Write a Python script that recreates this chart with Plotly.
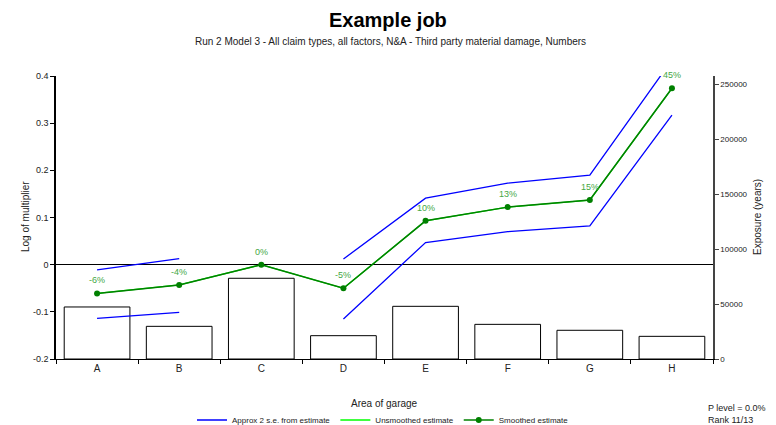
import plotly.graph_objects as go

categories = ["A", "B", "C", "D", "E", "F", "G", "H"]
exposure = [47300, 29700, 73400, 21200, 47900, 31500, 26100, 20600]
smoothed = [-0.061, -0.043, 0.0, -0.050, 0.093, 0.122, 0.137, 0.374]
unsmoothed = [-0.061, -0.043, 0.0, -0.050, 0.093, 0.122, 0.137, 0.374]
upper_se = [-0.011, 0.013, None, 0.012, 0.141, 0.173, 0.190, 0.434]
lower_se = [-0.114, -0.101, None, -0.115, 0.047, 0.070, 0.082, 0.317]
pct_labels = ["-6%", "-4%", "0%", "-5%", "10%", "13%", "15%", "45%"]

FONT = "Arial, Liberation Sans, sans-serif"

# The page body has an 8px margin; size the figure so the window matches.
OFF = 8
W, H = 776 - OFF, 425 - OFF
ML, MR, MT, MB = 56 - OFF, 63, 76 - OFF, 66

fig = go.Figure()

fig.add_trace(go.Bar(
    x=categories, y=exposure, yaxis="y", width=0.8,
    marker=dict(color="white", line=dict(color="black", width=1)),
    showlegend=False, hoverinfo="skip",
))
fig.add_trace(go.Scatter(
    x=categories, y=upper_se, yaxis="y2", mode="lines",
    line=dict(color="#0000ff", width=1.3), name="Approx 2 s.e. from estimate",
    connectgaps=False, legendgroup="se",
))
fig.add_trace(go.Scatter(
    x=categories, y=lower_se, yaxis="y2", mode="lines",
    line=dict(color="#0000ff", width=1.3), name="Approx 2 s.e. from estimate",
    connectgaps=False, showlegend=False, legendgroup="se",
))
fig.add_trace(go.Scatter(
    x=categories, y=unsmoothed, yaxis="y2", mode="lines",
    line=dict(color="#00ff00", width=1.3), name="Unsmoothed estimate",
))
fig.add_trace(go.Scatter(
    x=categories, y=smoothed, yaxis="y2", mode="lines+markers",
    line=dict(color="#008000", width=1.5), marker=dict(color="#008000", size=6),
    name="Smoothed estimate", cliponaxis=False,
))

plot_h = H - MT - MB
plot_w = W - ML - MR
def py(win_y):
    return (H - MB - (win_y - OFF)) / plot_h
def px(win_x):
    return ((win_x - OFF) - ML) / plot_w

annotations = [
    dict(text=lab, x=c, y=v, xref="x", yref="y2", yshift=13, showarrow=False,
         font=dict(color="#44a844", size=9))
    for c, v, lab in zip(categories, smoothed, pct_labels)
]
annotations += [
    dict(text="<b>Example job</b>", x=px(388), y=py(20), xref="paper", yref="paper",
         xanchor="center", yanchor="middle", showarrow=False,
         font=dict(size=20, color="black")),
    dict(text="Run 2 Model 3 - All claim types, all factors, N&A - Third party material damage, Numbers",
         x=px(390), y=py(41), xref="paper", yref="paper", xanchor="center", yanchor="middle",
         showarrow=False, font=dict(size=10, color="#222")),
    dict(text="P level = 0.0%<br>Rank 11/13", x=px(706), y=py(414), xref="paper", yref="paper",
         xanchor="left", yanchor="middle", showarrow=False, align="left",
         font=dict(size=9, color="#222")),
    dict(text="Area of garage", x=px(384), y=py(403), xref="paper", yref="paper",
         xanchor="center", yanchor="middle", showarrow=False, font=dict(size=10, color="#222")),
    dict(text="Log of multiplier", x=px(25), y=py(217), xref="paper", yref="paper",
         xanchor="center", yanchor="middle", showarrow=False, textangle=-90,
         font=dict(size=10, color="#222")),
    dict(text="Exposure (years)", x=px(757), y=py(217), xref="paper", yref="paper",
         xanchor="center", yanchor="middle", showarrow=False, textangle=-90,
         font=dict(size=10, color="#222")),
]

fig.update_layout(
    width=W, height=H,
    margin=dict(l=ML, r=MR, t=MT, b=MB, autoexpand=False),
    paper_bgcolor="white", plot_bgcolor="white",
    font=dict(family=FONT, size=9, color="#222"),
    bargap=0.2,
    xaxis=dict(
        type="category", showline=True, linecolor="black", linewidth=1,
        ticks="outside", ticklen=4, tickcolor="black", tickson="boundaries",
        showgrid=False, tickfont=dict(size=10, color="#222"), automargin=False,
    ),
    yaxis=dict(
        side="right", range=[0, 257300], tickvals=[0, 50000, 100000, 150000, 200000, 250000],
        tickformat="d", showline=True, linecolor="#444", linewidth=1.5,
        ticks="outside", ticklen=4, tickcolor="#444", showgrid=False, zeroline=False,
        tickfont=dict(size=8, color="#222"), automargin=False,
    ),
    yaxis2=dict(
        overlaying="y", side="left", range=[-0.2, 0.4],
        tickvals=[-0.2, -0.1, 0, 0.1, 0.2, 0.3, 0.4],
        ticktext=["-0.2", "-0.1", "0", "0.1", "0.2", "0.3", "0.4"],
        showline=True, linecolor="black", linewidth=1.5,
        ticks="outside", ticklen=4, tickcolor="black", showgrid=False,
        zeroline=True, zerolinecolor="black", zerolinewidth=1,
        tickfont=dict(size=9, color="#222"), automargin=False,
    ),
    legend=dict(
        orientation="h", x=px(383), xanchor="center", y=py(420), yanchor="middle",
        font=dict(size=8, color="#222"), bgcolor="rgba(0,0,0,0)",
        itemwidth=30, tracegroupgap=0,
    ),
    annotations=annotations,
)

fig.write_html("out.html")
